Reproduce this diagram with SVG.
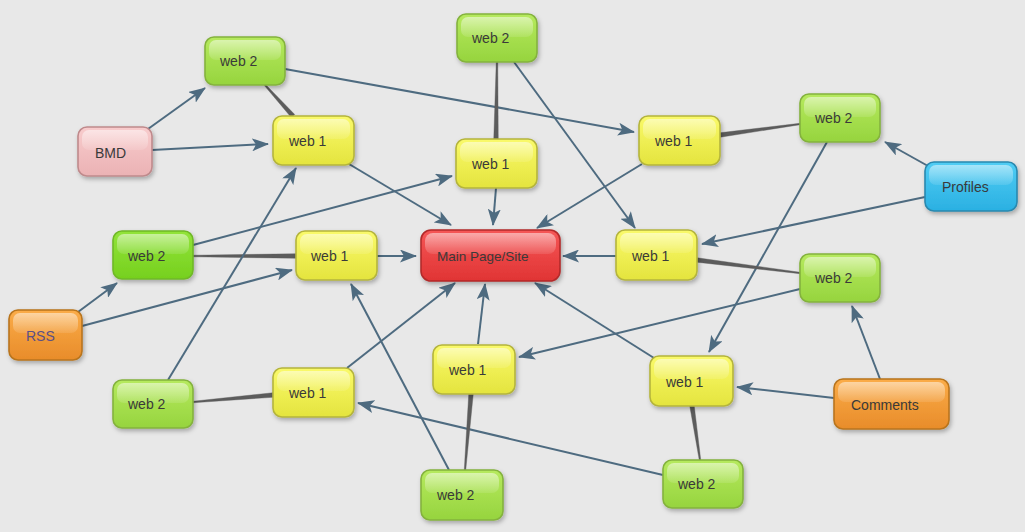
<svg xmlns="http://www.w3.org/2000/svg" width="1025" height="532" viewBox="0 0 1025 532">
<style>
.bg{fill:#e8e8e8}
.a{stroke:#4e6b80;stroke-width:2;fill:none;marker-end:url(#ah)}
.l{fill:#5c5c5c;stroke:#5c5c5c;stroke-width:0.4;stroke-linejoin:round}
.box{stroke-width:1.6;filter:url(#sh)}
.gl{fill:url(#gloss)}
.t{font-family:"Liberation Sans",Arial,sans-serif;font-size:14px;fill:#3a3a3a}
.green .box{fill:url(#gGreen);stroke:#84b23e}
.green2 .box{fill:url(#gGreen2);stroke:#6fb828}
.yellow .box{fill:url(#gYellow);stroke:#b4b43c}
.red .box{fill:url(#gRed);stroke:#b22a2a}
.pink .box{fill:url(#gPink);stroke:#bf8a8c}
.orange .box{fill:url(#gOrange);stroke:#b8741e}
.blue .box{fill:url(#gBlue);stroke:#2a88ae}
</style>
<defs>
<filter id="sh" x="-20%" y="-20%" width="150%" height="160%">
<feDropShadow dx="1.5" dy="2.5" stdDeviation="2" flood-color="#000" flood-opacity="0.28"/>
</filter>
<marker id="ah" viewBox="0 0 17 13" refX="16" refY="6.5" markerWidth="17" markerHeight="13" markerUnits="userSpaceOnUse" orient="auto">
<path d="M0,0 L17,6.5 L0,13 L4,6.5 z" fill="#4e6b80"/>
</marker>
<linearGradient id="gloss" x1="0" y1="0" x2="0" y2="1">
<stop offset="0" stop-color="#fff" stop-opacity="0.5"/>
<stop offset="1" stop-color="#fff" stop-opacity="0.1"/>
</linearGradient>
<linearGradient id="gGreen" x1="0" y1="0" x2="0" y2="1">
<stop offset="0" stop-color="#b6ea5e"/><stop offset="1" stop-color="#96d43e"/>
</linearGradient>
<linearGradient id="gGreen2" x1="0" y1="0" x2="0" y2="1">
<stop offset="0" stop-color="#92e43a"/><stop offset="1" stop-color="#76d01e"/>
</linearGradient>
<linearGradient id="gYellow" x1="0" y1="0" x2="0" y2="1">
<stop offset="0" stop-color="#fafa6a"/><stop offset="1" stop-color="#e4e43e"/>
</linearGradient>
<linearGradient id="gRed" x1="0" y1="0" x2="0" y2="1">
<stop offset="0" stop-color="#f65656"/><stop offset="1" stop-color="#e03434"/>
</linearGradient>
<linearGradient id="gPink" x1="0" y1="0" x2="0" y2="1">
<stop offset="0" stop-color="#f8cccd"/><stop offset="1" stop-color="#ebb2b4"/>
</linearGradient>
<linearGradient id="gOrange" x1="0" y1="0" x2="0" y2="1">
<stop offset="0" stop-color="#fbac48"/><stop offset="1" stop-color="#e88c2a"/>
</linearGradient>
<linearGradient id="gBlue" x1="0" y1="0" x2="0" y2="1">
<stop offset="0" stop-color="#50cdf4"/><stop offset="1" stop-color="#2ab0e2"/>
</linearGradient>
</defs>
<rect class="bg" x="0" y="0" width="1025" height="532"/>

<g id="connectors">
<line class="a" x1="148" y1="129" x2="205" y2="88"/>
<line class="a" x1="152" y1="150" x2="268" y2="144"/>
<polygon class="l" points="264.4,85.5 265.6,84.5 294.7,114.5 291.3,117.5"/>
<line class="a" x1="285" y1="69" x2="634" y2="132"/>
<line class="a" x1="349" y1="164" x2="451" y2="225"/>
<line class="a" x1="193" y1="245" x2="452" y2="176"/>
<polygon class="l" points="193,255.25 193,256.75 296,258.25 296,253.75"/>
<polygon class="l" points="496.25,62 497.75,62 498.25,139 493.75,139"/>
<line class="a" x1="514" y1="62" x2="635" y2="228"/>
<line class="a" x1="496" y1="188" x2="493" y2="225"/>
<line class="a" x1="642" y1="164" x2="537" y2="228"/>
<polygon class="l" points="799.9,123.3 800.1,124.7 720.3,137.2 719.7,132.8"/>
<line class="a" x1="827" y1="142" x2="709" y2="352"/>
<line class="a" x1="928" y1="166" x2="885" y2="142"/>
<line class="a" x1="925" y1="197" x2="702" y2="244"/>
<line class="a" x1="616" y1="256" x2="563" y2="256"/>
<polygon class="l" points="800.1,272.3 799.9,273.7 696.7,262.2 697.3,257.8"/>
<line class="a" x1="800" y1="289" x2="519" y2="357"/>
<line class="a" x1="880" y1="379" x2="852" y2="306"/>
<line class="a" x1="834" y1="398" x2="737" y2="387"/>
<polygon class="l" points="699.25,460 700.75,460 694.25,406 689.75,406"/>
<line class="a" x1="654" y1="358" x2="535" y2="283"/>
<line class="a" x1="663" y1="475" x2="358" y2="403"/>
<line class="a" x1="478" y1="344" x2="485" y2="284"/>
<polygon class="l" points="464.25,470 465.75,470 473.25,394 468.75,394"/>
<line class="a" x1="449" y1="470" x2="351" y2="284"/>
<line class="a" x1="347" y1="368" x2="455" y2="283"/>
<line class="a" x1="168" y1="380" x2="296" y2="168"/>
<polygon class="l" points="193,401.25 193,402.75 273,397.25 273,392.75"/>
<line class="a" x1="78" y1="312" x2="117" y2="283"/>
<line class="a" x1="82" y1="326" x2="292" y2="270"/>
<line class="a" x1="377" y1="256" x2="416" y2="256"/>
</g>

<g id="n_web2_tl" class="green"><rect class="box" x="205" y="37" width="80" height="48" rx="9"/><rect class="gl" x="209" y="40" width="72" height="20" rx="7"/><text class="t" x="220" y="66">web 2</text></g>
<g id="n_web1_a" class="yellow"><rect class="box" x="273" y="116" width="81" height="49" rx="9"/><rect class="gl" x="277" y="119" width="73" height="20" rx="7"/><text class="t" x="289" y="146">web 1</text></g>
<g id="n_bmd" class="pink"><rect class="box" x="78" y="127" width="74" height="49" rx="9"/><rect class="gl" x="82" y="130" width="66" height="20" rx="7"/><text class="t" x="95" y="158">BMD</text></g>
<g id="n_web2_l" class="green2"><rect class="box" x="113" y="231" width="80" height="48" rx="9"/><rect class="gl" x="117" y="234" width="72" height="20" rx="7"/><text class="t" x="128" y="261">web 2</text></g>
<g id="n_web1_b" class="yellow"><rect class="box" x="296" y="231" width="81" height="49" rx="9"/><rect class="gl" x="300" y="234" width="73" height="20" rx="7"/><text class="t" x="311" y="261">web 1</text></g>
<g id="n_web2_top" class="green"><rect class="box" x="457" y="14" width="80" height="48" rx="9"/><rect class="gl" x="461" y="17" width="72" height="20" rx="7"/><text class="t" x="472" y="43">web 2</text></g>
<g id="n_web1_c" class="yellow"><rect class="box" x="456" y="139" width="81" height="49" rx="9"/><rect class="gl" x="460" y="142" width="73" height="20" rx="7"/><text class="t" x="472" y="169">web 1</text></g>
<g id="n_web1_d" class="yellow"><rect class="box" x="639" y="116" width="81" height="49" rx="9"/><rect class="gl" x="643" y="119" width="73" height="20" rx="7"/><text class="t" x="655" y="146">web 1</text></g>
<g id="n_main" class="red"><rect class="box" x="421" y="230" width="139" height="51" rx="10"/><rect class="gl" x="425" y="233" width="131" height="21" rx="8"/><text class="t" x="437" y="261" style="font-size:13.5px">Main Page/Site</text></g>
<g id="n_web1_e" class="yellow"><rect class="box" x="616" y="230" width="81" height="50" rx="9"/><rect class="gl" x="620" y="233" width="73" height="20" rx="7"/><text class="t" x="632" y="261">web 1</text></g>
<g id="n_web2_tr" class="green"><rect class="box" x="800" y="94" width="80" height="48" rx="9"/><rect class="gl" x="804" y="97" width="72" height="20" rx="7"/><text class="t" x="815" y="123">web 2</text></g>
<g id="n_profiles" class="blue"><rect class="box" x="925" y="162" width="92" height="49" rx="9"/><rect class="gl" x="929" y="165" width="84" height="20" rx="7"/><text class="t" x="942" y="192">Profiles</text></g>
<g id="n_web2_rm" class="green"><rect class="box" x="800" y="254" width="80" height="48" rx="9"/><rect class="gl" x="804" y="257" width="72" height="20" rx="7"/><text class="t" x="815" y="283">web 2</text></g>
<g id="n_rss" class="orange"><rect class="box" x="9" y="310" width="73" height="50" rx="9"/><rect class="gl" x="13" y="313" width="65" height="20" rx="7"/><text class="t" x="26" y="341" style="fill:#5a4f86">RSS</text></g>
<g id="n_web2_bl" class="green"><rect class="box" x="113" y="380" width="80" height="48" rx="9"/><rect class="gl" x="117" y="383" width="72" height="20" rx="7"/><text class="t" x="128" y="409">web 2</text></g>
<g id="n_web1_f" class="yellow"><rect class="box" x="273" y="368" width="81" height="49" rx="9"/><rect class="gl" x="277" y="371" width="73" height="20" rx="7"/><text class="t" x="289" y="398">web 1</text></g>
<g id="n_web1_g" class="yellow"><rect class="box" x="433" y="345" width="82" height="49" rx="9"/><rect class="gl" x="437" y="348" width="74" height="20" rx="7"/><text class="t" x="449" y="375">web 1</text></g>
<g id="n_web1_h" class="yellow"><rect class="box" x="650" y="356" width="83" height="50" rx="9"/><rect class="gl" x="654" y="359" width="75" height="20" rx="7"/><text class="t" x="666" y="387">web 1</text></g>
<g id="n_web2_bc" class="green"><rect class="box" x="421" y="470" width="82" height="50" rx="9"/><rect class="gl" x="425" y="473" width="74" height="20" rx="7"/><text class="t" x="437" y="500">web 2</text></g>
<g id="n_web2_br" class="green"><rect class="box" x="663" y="460" width="80" height="48" rx="9"/><rect class="gl" x="667" y="463" width="72" height="20" rx="7"/><text class="t" x="678" y="489">web 2</text></g>
<g id="n_comments" class="orange"><rect class="box" x="834" y="379" width="115" height="50" rx="9"/><rect class="gl" x="838" y="382" width="107" height="20" rx="7"/><text class="t" x="851" y="410">Comments</text></g>
</svg>
